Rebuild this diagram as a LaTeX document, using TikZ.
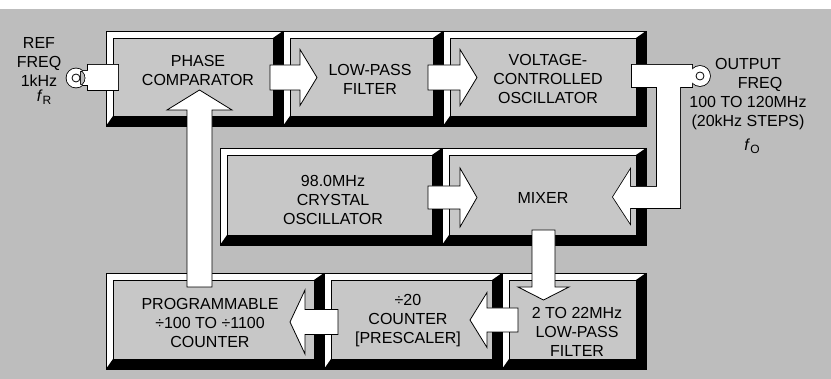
\documentclass[tikz,border=0pt]{standalone}
\usepackage{fontspec}
\setmainfont{Liberation Sans}
\definecolor{bggray}{gray}{0.74}
\definecolor{boxgray}{gray}{0.78}
\tikzset{
  bev/.style={draw=black, line width=0.8pt, fill=white, inner sep=0pt, outer sep=0pt, anchor=north west,
    path picture={
      \fill[black] (path picture bounding box.north east) -- (path picture bounding box.south east)
        -- (path picture bounding box.south west) -- ([shift={(7pt,10pt)}]path picture bounding box.south west)
        -- ([shift={(-10pt,10pt)}]path picture bounding box.south east)
        -- ([shift={(-10pt,-7pt)}]path picture bounding box.north east) -- cycle;
      \filldraw[fill=boxgray, line width=0.8pt] ([shift={(7pt,-7pt)}]path picture bounding box.north west)
        rectangle ([shift={(-10pt,10pt)}]path picture bounding box.south east);
    }},
  lbl/.style={align=center, inner sep=0pt, font=\fontsize{16}{19}\selectfont},
  blk/.style={draw=black, fill=white, line width=0.8pt, line join=miter}
}
% horizontal block arrow: xstart, xbase, xtip, ycenter, shaft half, head half
\newcommand\harrow[6]{\draw[blk] (#1,#4-#5) -- (#2,#4-#5) -- (#2,#4-#6) -- (#3,#4) -- (#2,#4+#6) -- (#2,#4+#5) -- (#1,#4+#5) -- cycle;}
% vertical block arrow: ystart, ybase, ytip, xcenter, shaft half, head half
\newcommand\varrow[6]{\draw[blk] (#4-#5,#1) -- (#4-#5,#2) -- (#4-#6,#2) -- (#4,#3) -- (#4+#6,#2) -- (#4+#5,#2) -- (#4+#5,#1) -- cycle;}
\begin{document}
\begin{tikzpicture}[x=1pt,y=-1pt]
\useasboundingbox (0,0) rectangle (831,379);
\fill[bggray] (0,9) rectangle (831,379);

% boxes
\node[bev, minimum width=177pt, minimum height=95pt] (pc) at (106,31) {};
\node[bev, minimum width=160pt, minimum height=95pt] (lpf) at (283,31) {};
\node[bev, minimum width=203pt, minimum height=95pt] (vco) at (443,31) {};
\node[bev, minimum width=222pt, minimum height=97pt] (xtal) at (220,148) {};
\node[bev, minimum width=204pt, minimum height=97pt] (mix) at (442,148) {};
\node[bev, minimum width=218pt, minimum height=96pt] (prog) at (106,273) {};
\node[bev, minimum width=178pt, minimum height=96pt] (pre) at (324,273) {};
\node[bev, minimum width=144pt, minimum height=96pt] (lpf2) at (502,273) {};

% block arrows
\harrow{270}{300}{317}{77.5}{12.5}{28}
\harrow{428}{460}{477}{77.5}{12.5}{28}
\harrow{428}{460}{477}{197.5}{11.5}{29.5}
\harrow{518}{487}{470}{320}{12}{27.5}
\harrow{338}{305}{290}{322}{12.5}{32}
\varrow{230}{287}{300}{543.5}{11.5}{25.5}
\varrow{287}{110}{90}{199.5}{12.5}{32.5}

% reference input connector
\path[draw=black, line width=1.6pt] (88,65) rectangle (118,90) (80,71) rectangle (90,85) (76,78) circle[radius=9.5];
\path[fill=white] (88,65) rectangle (118,90) (80,71) rectangle (90,85) (76,78) circle[radius=9.5];
\draw[line width=0.8pt] (76,78) circle[radius=4];

% output connector and feedback to mixer
\path[draw=black, line width=1.6pt] (632,65) -- (692,65) -- (692,87) -- (680,87) -- (680,208) -- (630,208) -- (630,223) -- (613,197) -- (630,170) -- (630,187) -- (657,187) -- (657,87) -- (632,87) -- cycle (700,76) circle[radius=10];
\path[fill=white] (632,65) -- (692,65) -- (692,87) -- (680,87) -- (680,208) -- (630,208) -- (630,223) -- (613,197) -- (630,170) -- (630,187) -- (657,187) -- (657,87) -- (632,87) -- cycle (700,76) circle[radius=10];
\draw[line width=0.8pt] (700,76) circle[radius=4];

% labels
\node[lbl] (tpc) at (198,70.5) {PHASE\\COMPARATOR};
\node[lbl] (tlpf) at (370,79.5) {LOW-PASS\\FILTER};
\node[lbl] (tvco) at (548,78.5) {VOLTAGE-\\CONTROLLED\\OSCILLATOR};
\node[lbl] (txtal) at (333,200) {98.0MHz\\CRYSTAL\\OSCILLATOR};
\node[lbl] (tmix) at (543,198) {MIXER};
\node[lbl] (tprog) at (210,322.5) {PROGRAMMABLE\\÷100 TO ÷1100\\COUNTER};
\node[lbl] (tpre) at (408,321) {÷20\\COUNTER\\{[}PRESCALER{]}};
\node[lbl] (tlpf2) at (577,332) {2 TO 22MHz\\LOW-PASS\\FILTER};
\node[lbl] (tref) at (39,61.5) {REF\\FREQ\\1kHz};
\node[lbl, anchor=base] (tfr) at (44,102) {\textit{f}\raisebox{-3pt}{\fontsize{12}{12}\selectfont R}};
\node[lbl] (tout) at (748,94) {OUTPUT\\\hspace*{24pt}FREQ\\100 TO 120MHz\\(20kHz STEPS)};
\node[lbl, anchor=base] (tfo) at (752,151) {\textit{f}\raisebox{-3pt}{\fontsize{12}{12}\selectfont O}};
\end{tikzpicture}
\end{document}
